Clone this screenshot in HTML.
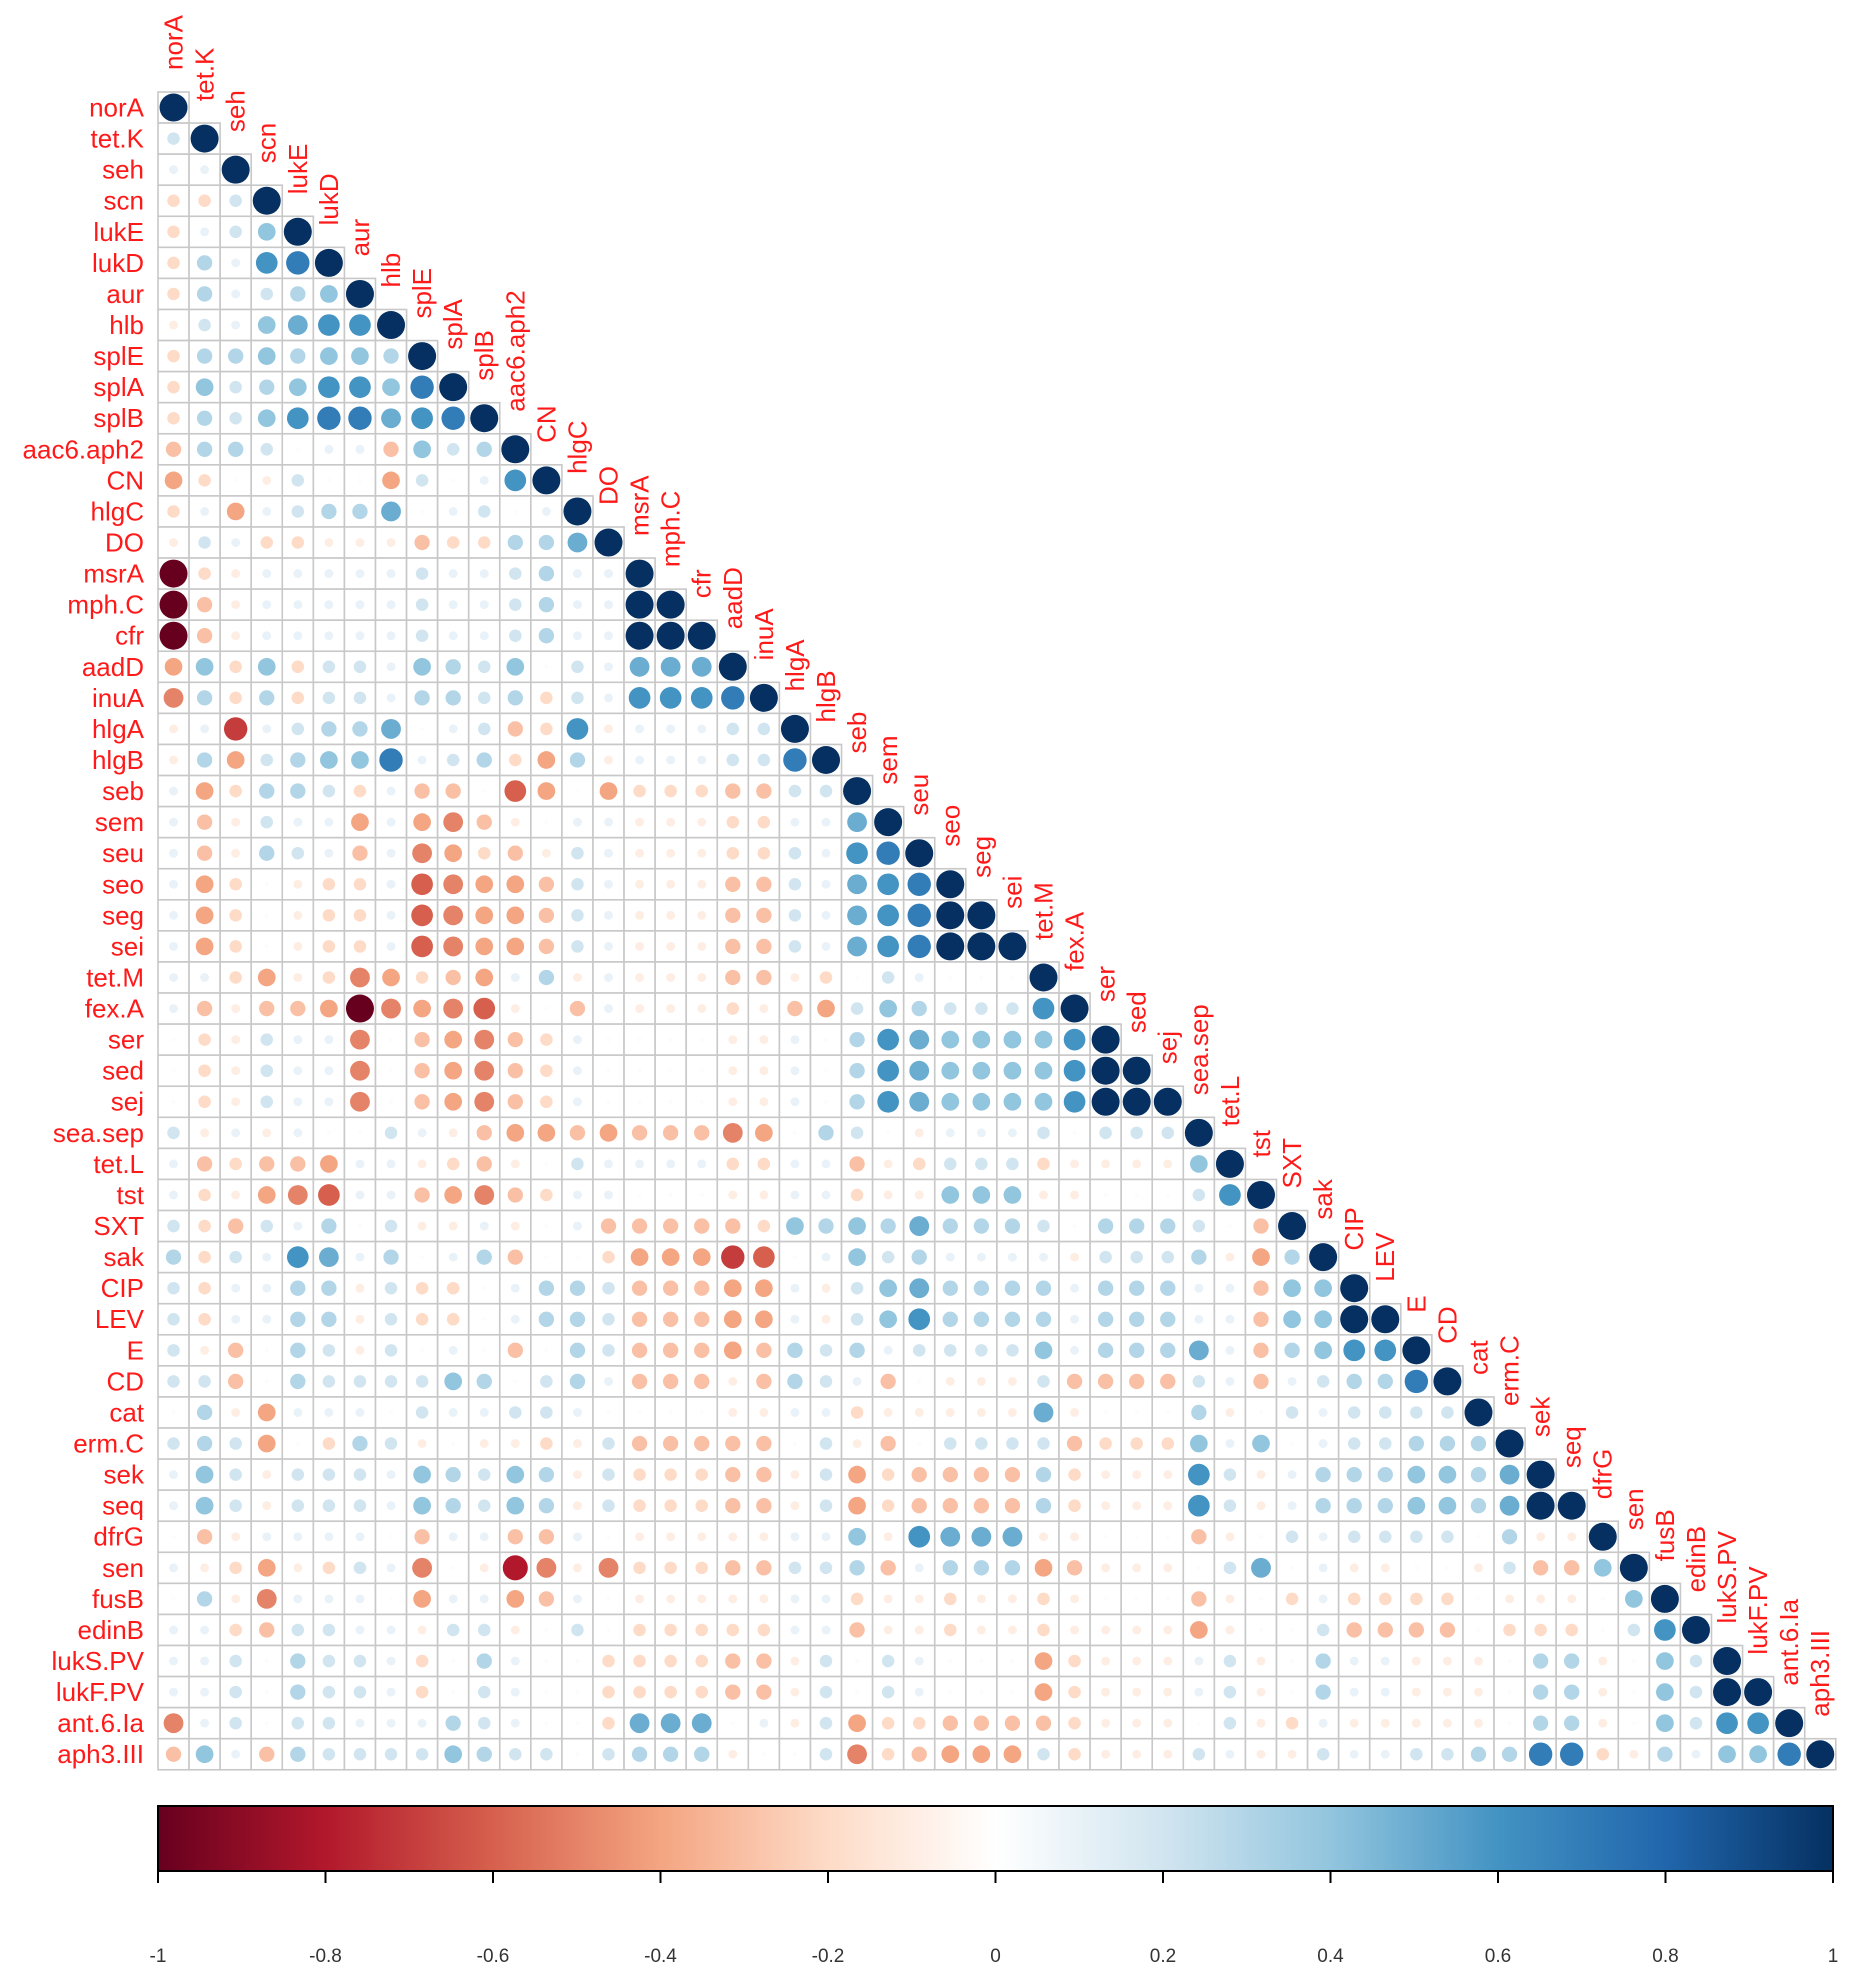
<!DOCTYPE html>
<html><head><meta charset="utf-8"><style>
html,body{margin:0;padding:0;background:#fff;}
svg{display:block;}
text{font-family:"Liberation Sans",Arial,sans-serif;}
</style></head><body>
<svg id="s" width="1849" height="1976" viewBox="0 0 1849 1976" xmlns="http://www.w3.org/2000/svg">
<defs><linearGradient id="g" x1="0" x2="1" y1="0" y2="0">
<stop offset="0" stop-color="#67001F"/><stop offset="0.1" stop-color="#B2182B"/><stop offset="0.2" stop-color="#D6604D"/><stop offset="0.3" stop-color="#F4A582"/><stop offset="0.4" stop-color="#FDDBC7"/><stop offset="0.5" stop-color="#FFFFFF"/><stop offset="0.6" stop-color="#D1E5F0"/><stop offset="0.7" stop-color="#92C5DE"/><stop offset="0.8" stop-color="#4393C3"/><stop offset="0.9" stop-color="#2166AC"/><stop offset="1" stop-color="#053061"/>
</linearGradient></defs>
<g id="cells"></g>
<g transform="translate(158,92)" fill="#FF1A1A" font-size="26" text-anchor="end" dominant-baseline="central">
<text x="-14" y="15.5">norA</text><text x="-14" y="46.57">tet.K</text><text x="-14" y="77.64">seh</text><text x="-14" y="108.71">scn</text><text x="-14" y="139.78">lukE</text><text x="-14" y="170.85">lukD</text><text x="-14" y="201.92">aur</text><text x="-14" y="232.99">hlb</text><text x="-14" y="264.06">splE</text><text x="-14" y="295.13">splA</text><text x="-14" y="326.2">splB</text><text x="-14" y="357.27">aac6.aph2</text><text x="-14" y="388.34">CN</text><text x="-14" y="419.41">hlgC</text><text x="-14" y="450.48">DO</text><text x="-14" y="481.55">msrA</text><text x="-14" y="512.62">mph.C</text><text x="-14" y="543.69">cfr</text><text x="-14" y="574.76">aadD</text><text x="-14" y="605.83">inuA</text><text x="-14" y="636.9">hlgA</text><text x="-14" y="667.97">hlgB</text><text x="-14" y="699.04">seb</text><text x="-14" y="730.11">sem</text><text x="-14" y="761.18">seu</text><text x="-14" y="792.25">seo</text><text x="-14" y="823.32">seg</text><text x="-14" y="854.39">sei</text><text x="-14" y="885.46">tet.M</text><text x="-14" y="916.53">fex.A</text><text x="-14" y="947.6">ser</text><text x="-14" y="978.67">sed</text><text x="-14" y="1009.74">sej</text><text x="-14" y="1040.81">sea.sep</text><text x="-14" y="1071.88">tet.L</text><text x="-14" y="1102.95">tst</text><text x="-14" y="1134.02">SXT</text><text x="-14" y="1165.09">sak</text><text x="-14" y="1196.16">CIP</text><text x="-14" y="1227.23">LEV</text><text x="-14" y="1258.3">E</text><text x="-14" y="1289.37">CD</text><text x="-14" y="1320.44">cat</text><text x="-14" y="1351.51">erm.C</text><text x="-14" y="1382.58">sek</text><text x="-14" y="1413.65">seq</text><text x="-14" y="1444.72">dfrG</text><text x="-14" y="1475.79">sen</text><text x="-14" y="1506.86">fusB</text><text x="-14" y="1537.93">edinB</text><text x="-14" y="1569">lukS.PV</text><text x="-14" y="1600.07">lukF.PV</text><text x="-14" y="1631.14">ant.6.Ia</text><text x="-14" y="1662.21">aph3.III</text>
</g>
<g transform="translate(173.5,70)" fill="#FF1A1A" font-size="26">
<text transform="translate(9,0) rotate(-90)">norA</text><text transform="translate(40.07,31.07) rotate(-90)">tet.K</text><text transform="translate(71.14,62.14) rotate(-90)">seh</text><text transform="translate(102.21,93.21) rotate(-90)">scn</text><text transform="translate(133.28,124.28) rotate(-90)">lukE</text><text transform="translate(164.35,155.35) rotate(-90)">lukD</text><text transform="translate(195.42,186.42) rotate(-90)">aur</text><text transform="translate(226.49,217.49) rotate(-90)">hlb</text><text transform="translate(257.56,248.56) rotate(-90)">splE</text><text transform="translate(288.63,279.63) rotate(-90)">splA</text><text transform="translate(319.7,310.7) rotate(-90)">splB</text><text transform="translate(350.77,341.77) rotate(-90)">aac6.aph2</text><text transform="translate(381.84,372.84) rotate(-90)">CN</text><text transform="translate(412.91,403.91) rotate(-90)">hlgC</text><text transform="translate(443.98,434.98) rotate(-90)">DO</text><text transform="translate(475.05,466.05) rotate(-90)">msrA</text><text transform="translate(506.12,497.12) rotate(-90)">mph.C</text><text transform="translate(537.19,528.19) rotate(-90)">cfr</text><text transform="translate(568.26,559.26) rotate(-90)">aadD</text><text transform="translate(599.33,590.33) rotate(-90)">inuA</text><text transform="translate(630.4,621.4) rotate(-90)">hlgA</text><text transform="translate(661.47,652.47) rotate(-90)">hlgB</text><text transform="translate(692.54,683.54) rotate(-90)">seb</text><text transform="translate(723.61,714.61) rotate(-90)">sem</text><text transform="translate(754.68,745.68) rotate(-90)">seu</text><text transform="translate(785.75,776.75) rotate(-90)">seo</text><text transform="translate(816.82,807.82) rotate(-90)">seg</text><text transform="translate(847.89,838.89) rotate(-90)">sei</text><text transform="translate(878.96,869.96) rotate(-90)">tet.M</text><text transform="translate(910.03,901.03) rotate(-90)">fex.A</text><text transform="translate(941.1,932.1) rotate(-90)">ser</text><text transform="translate(972.17,963.17) rotate(-90)">sed</text><text transform="translate(1003.24,994.24) rotate(-90)">sej</text><text transform="translate(1034.31,1025.31) rotate(-90)">sea.sep</text><text transform="translate(1065.38,1056.38) rotate(-90)">tet.L</text><text transform="translate(1096.45,1087.45) rotate(-90)">tst</text><text transform="translate(1127.52,1118.52) rotate(-90)">SXT</text><text transform="translate(1158.59,1149.59) rotate(-90)">sak</text><text transform="translate(1189.66,1180.66) rotate(-90)">CIP</text><text transform="translate(1220.73,1211.73) rotate(-90)">LEV</text><text transform="translate(1251.8,1242.8) rotate(-90)">E</text><text transform="translate(1282.87,1273.87) rotate(-90)">CD</text><text transform="translate(1313.94,1304.94) rotate(-90)">cat</text><text transform="translate(1345.01,1336.01) rotate(-90)">erm.C</text><text transform="translate(1376.08,1367.08) rotate(-90)">sek</text><text transform="translate(1407.15,1398.15) rotate(-90)">seq</text><text transform="translate(1438.22,1429.22) rotate(-90)">dfrG</text><text transform="translate(1469.29,1460.29) rotate(-90)">sen</text><text transform="translate(1500.36,1491.36) rotate(-90)">fusB</text><text transform="translate(1531.43,1522.43) rotate(-90)">edinB</text><text transform="translate(1562.5,1553.5) rotate(-90)">lukS.PV</text><text transform="translate(1593.57,1584.57) rotate(-90)">lukF.PV</text><text transform="translate(1624.64,1615.64) rotate(-90)">ant.6.Ia</text><text transform="translate(1655.71,1646.71) rotate(-90)">aph3.III</text>
</g>
<rect x="158" y="1806" width="1675" height="65" fill="url(#g)" stroke="#000" stroke-width="2"/>
<g stroke="#000" stroke-width="2">
<line x1="158" y1="1871" x2="158" y2="1883"/><line x1="325.5" y1="1871" x2="325.5" y2="1883"/><line x1="493" y1="1871" x2="493" y2="1883"/><line x1="660.5" y1="1871" x2="660.5" y2="1883"/><line x1="828" y1="1871" x2="828" y2="1883"/><line x1="995.5" y1="1871" x2="995.5" y2="1883"/><line x1="1163" y1="1871" x2="1163" y2="1883"/><line x1="1330.5" y1="1871" x2="1330.5" y2="1883"/><line x1="1498" y1="1871" x2="1498" y2="1883"/><line x1="1665.5" y1="1871" x2="1665.5" y2="1883"/><line x1="1833" y1="1871" x2="1833" y2="1883"/>
</g>
<g font-size="19" fill="#333" text-anchor="middle">
<text x="158" y="1962">-1</text><text x="325.5" y="1962">-0.8</text><text x="493" y="1962">-0.6</text><text x="660.5" y="1962">-0.4</text><text x="828" y="1962">-0.2</text><text x="995.5" y="1962">0</text><text x="1163" y="1962">0.2</text><text x="1330.5" y="1962">0.4</text><text x="1498" y="1962">0.6</text><text x="1665.5" y="1962">0.8</text><text x="1833" y="1962">1</text>
</g>
</svg>
<script>
var R=[
"X","2X","11X","bb2X","b124X","b3167X","b31234X","a214566X","b3343443X","b42346647X","b324677567X",
"c332011c423X","db0a200d2016X","b1d1233501201X","a21bbaaacbb335X","zba111112112311X","zca111112112311XX","zca111112112311XXX",
"d4b4b2214324021555X","e3b3b2213323b216667X",
"a1g12335012cb6a111"+"22X",
"a3d23447123bd3a111"+"227X",
"1db332b1cc0fd0dbbb"+"cc22X",
"1ca211d1deca011aaa"+"bb115X",
"1ca321c1edbca21aaa"+"bb2167X",
"1db0abb1feddc21aaa"+"cc21567X",
"1db0abb1feddc21aaa"+"cc21567XX",
"1db0abb1feddc21aaa"+"cc21567XXX",
"11bdabedbcd13a1aaa"+"ccab021000X",
"1caccdzedefa0c1aaa"+"bacd2432226X",
"0ba211e0cdecb10000"+"aa1036544446X",
"0ba211e0cdecb10000"+"aa1036544446XX",
"0ba211e0cdecb10000"+"aa1036544446XXX",
"2a1a10021acddcdccc"+"ed0320a11120222X",
"1cbccd11abca021111"+"bb11cab222baaaa4X",
"1badef11cdecb11000"+"aa11baa444aa00026X",
"2bc21302aa1a01cccc"+"cb434353332033320c"+"X",
"3b216513013c00bddd"+"gf014231111a2223ad"+"3X",
"2b1133a2bb01332ccc"+"dd1a2453333133311c"+"44X",
"2b1133a2bb01332ccc"+"dd1a2463333133311c"+"44XX",
"2ac032a2010c032ccc"+"dc323122224133351c"+"3466X",
"22c032222430231ccc"+"ac321c0aaa2cccc21c"+"12337X",
"03ad11102112210000"+"aa11baaaaa5a0003a0"+"212222X",
"232d0b32a0aaba2ccc"+"cc02ac02222cbbb414"+"0122333X",
"142a222143243a2bbb"+"cca2dbcccc3baaa62a"+"13334435X",
"142a222143243a2bbb"+"cca2dbcccc3baaa62a"+"13334435XX",
"0ca11110c11cc10aaa"+"aa114a6555aa000ca0"+"21222203aaX",
"1abdab21e0aheaebbb"+"cc223c1333dcaaa025"+"01aa00a2cc4X",
"03ae1110d11dc10aaa"+"aa11baabaaba000ca0"+"b1bbbb0aaa04X",
"11bc2211a22a020bbb"+"bb11caabaabaaaada0"+"02cccc0bbb026X",
"11203221b03100bbbb"+"cca2021000dbaaa12a"+"0311aaa033a042X",
"11203221b02100bbbb"+"cca2021000dbaaa12a"+"0311aaa033a042XX",
"e1202211132100b555"+"01a2dbbccccbaaa02a"+"b1aaaaa033a04266X",
"c41c32222432202333"+"a002ebcddd2baaa21a"+"a211223377ba31447X"
];
var stops=[[103,0,31],[178,24,43],[214,96,77],[244,165,130],[253,219,199],[255,255,255],[209,229,240],[146,197,222],[67,147,195],[33,102,172],[5,48,97]];
function col(v){var t=(v+1)*5;var i=Math.min(9,Math.floor(t));var f=t-i;var a=stops[i],b=stops[i+1];
return "rgb("+[0,1,2].map(function(k){return Math.round(a[k]+(b[k]-a[k])*f);}).join(",")+")";}
function val(ch){if(ch=="X")return 1;if(ch=="z")return -1;if(ch=="0")return 0.02;
if(ch>="1"&&ch<="9")return (+ch)/10;var i="abcdefghi".indexOf(ch);if(i>=0)return -(i+1)/10;return 0.02;}
var ns="http://www.w3.org/2000/svg",g=document.getElementById("cells"),S=31.07,X0=158,Y0=92;
var rects="",circ="";
for(var r=0;r<54;r++){var s=R[r]||"";
for(var c=0;c<=r;c++){var x=X0+c*S,y=Y0+r*S;
rects+='<rect x="'+x.toFixed(2)+'" y="'+y.toFixed(2)+'" width="'+S+'" height="'+S+'" fill="#fff" stroke="#C8C8C8" stroke-width="1.6"/>';
var ch=c==r?"X":(s[c]||"0");var v=val(ch);
circ+='<circle cx="'+(x+S/2).toFixed(2)+'" cy="'+(y+S/2).toFixed(2)+'" r="'+(14*Math.sqrt(Math.abs(v))).toFixed(2)+'" fill="'+col(v)+'"/>';}}
g.innerHTML=rects+circ;
</script>
</body></html>
